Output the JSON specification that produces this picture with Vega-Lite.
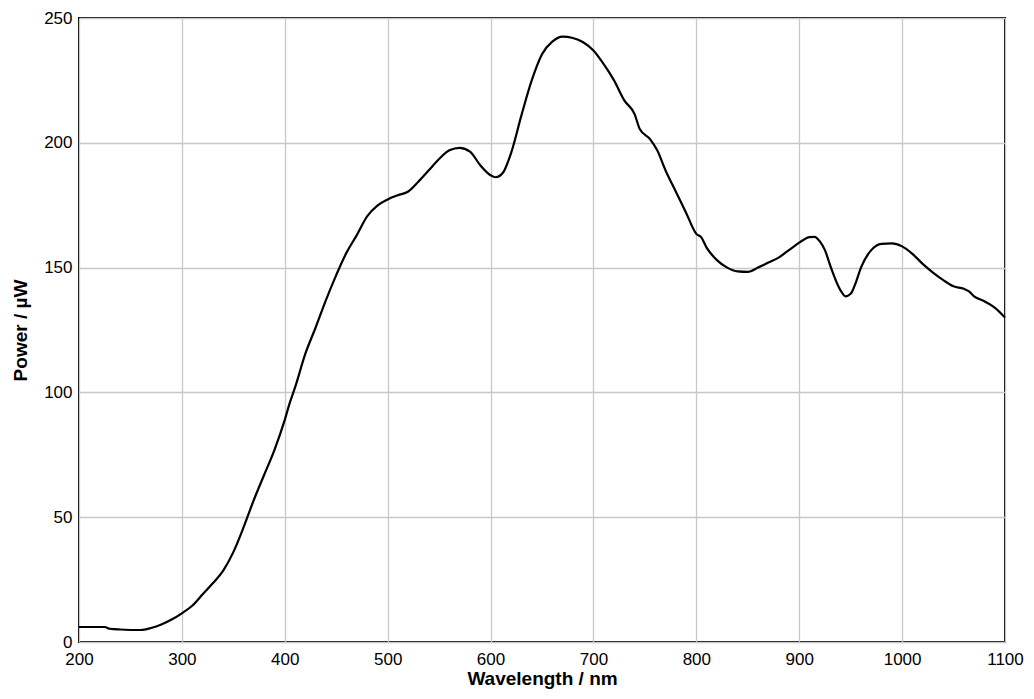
{
  "$schema": "https://vega.github.io/schema/vega-lite/v6.json",
  "width": 926,
  "height": 624,
  "autosize": {"type": "none"},
  "padding": {"left": 79, "top": 18, "right": 29, "bottom": 57},
  "background": "white",
  "config": {
    "view": {"stroke": "black", "strokeWidth": 2},
    "font": "Liberation Sans",
    "axis": {
      "labelFont": "Liberation Sans",
      "labelFontSize": 17,
      "labelColor": "black",
      "titleFont": "Liberation Sans",
      "titleFontSize": 19,
      "titleFontWeight": "bold",
      "titleColor": "black",
      "gridColor": "#c8c8c8",
      "gridWidth": 1.3,
      "gridOpacity": 1,
      "ticks": false,
      "domain": false
    }
  },
  "data": {
    "values": [
      {"nm": 200, "p": 6.0}, {"nm": 225, "p": 6.0}, {"nm": 230, "p": 5.3}, {"nm": 240, "p": 5.0},
      {"nm": 260, "p": 4.8}, {"nm": 270, "p": 5.6}, {"nm": 280, "p": 7.0}, {"nm": 290, "p": 9.0},
      {"nm": 300, "p": 11.5}, {"nm": 310, "p": 14.5}, {"nm": 320, "p": 19}, {"nm": 330, "p": 23.5},
      {"nm": 340, "p": 28.5}, {"nm": 350, "p": 36}, {"nm": 360, "p": 46}, {"nm": 370, "p": 57},
      {"nm": 380, "p": 67}, {"nm": 390, "p": 77}, {"nm": 400, "p": 89}, {"nm": 405, "p": 96},
      {"nm": 410, "p": 102}, {"nm": 420, "p": 115.5}, {"nm": 430, "p": 126}, {"nm": 440, "p": 137},
      {"nm": 450, "p": 147}, {"nm": 460, "p": 156}, {"nm": 470, "p": 163}, {"nm": 480, "p": 170.5},
      {"nm": 490, "p": 174.8}, {"nm": 500, "p": 177.3}, {"nm": 510, "p": 179}, {"nm": 520, "p": 180.5},
      {"nm": 530, "p": 184.5}, {"nm": 540, "p": 189}, {"nm": 550, "p": 193.5}, {"nm": 560, "p": 197},
      {"nm": 570, "p": 198}, {"nm": 580, "p": 196.5}, {"nm": 590, "p": 191}, {"nm": 600, "p": 187},
      {"nm": 605, "p": 186.2}, {"nm": 612, "p": 188}, {"nm": 620, "p": 196}, {"nm": 630, "p": 211},
      {"nm": 640, "p": 225}, {"nm": 650, "p": 235.5}, {"nm": 660, "p": 240.5}, {"nm": 670, "p": 242.5},
      {"nm": 680, "p": 242}, {"nm": 690, "p": 240.3}, {"nm": 700, "p": 237}, {"nm": 710, "p": 231.5},
      {"nm": 720, "p": 225}, {"nm": 730, "p": 217}, {"nm": 740, "p": 211.5}, {"nm": 745, "p": 205.5},
      {"nm": 755, "p": 201.5}, {"nm": 762, "p": 197}, {"nm": 770, "p": 189}, {"nm": 780, "p": 180.5},
      {"nm": 790, "p": 172}, {"nm": 800, "p": 163.5}, {"nm": 805, "p": 162}, {"nm": 810, "p": 158},
      {"nm": 820, "p": 153}, {"nm": 830, "p": 150}, {"nm": 840, "p": 148.5}, {"nm": 850, "p": 148.3},
      {"nm": 860, "p": 150}, {"nm": 870, "p": 152}, {"nm": 880, "p": 154}, {"nm": 890, "p": 157},
      {"nm": 900, "p": 160}, {"nm": 910, "p": 162.2}, {"nm": 915, "p": 162.3}, {"nm": 920, "p": 160.5},
      {"nm": 925, "p": 157}, {"nm": 930, "p": 151}, {"nm": 940, "p": 141}, {"nm": 945, "p": 138.5},
      {"nm": 950, "p": 139.5}, {"nm": 955, "p": 144}, {"nm": 960, "p": 150}, {"nm": 970, "p": 157},
      {"nm": 980, "p": 159.5}, {"nm": 990, "p": 159.7}, {"nm": 1000, "p": 158.5}, {"nm": 1010, "p": 155.5},
      {"nm": 1020, "p": 151.5}, {"nm": 1030, "p": 148}, {"nm": 1040, "p": 145}, {"nm": 1050, "p": 142.5},
      {"nm": 1060, "p": 141.5}, {"nm": 1065, "p": 140.5}, {"nm": 1070, "p": 138.5}, {"nm": 1080, "p": 136.5},
      {"nm": 1090, "p": 134}, {"nm": 1100, "p": 130}
    ]
  },
  "mark": {"type": "line", "color": "black", "strokeWidth": 2.2, "interpolate": "monotone"},
  "encoding": {
    "x": {
      "field": "nm", "type": "quantitative",
      "scale": {"domain": [200, 1100], "nice": false, "zero": false},
      "axis": {"values": [200, 300, 400, 500, 600, 700, 800, 900, 1000, 1100], "format": "d", "title": "Wavelength / nm", "labelPadding": 9, "titlePadding": 2, "labelFlush": false}
    },
    "y": {
      "field": "p", "type": "quantitative",
      "scale": {"domain": [0, 250], "nice": false},
      "axis": {"values": [0, 50, 100, 150, 200, 250], "format": "d", "title": "Power / µW", "labelPadding": 7, "titlePadding": 13, "labelFlush": false}
    }
  }
}
